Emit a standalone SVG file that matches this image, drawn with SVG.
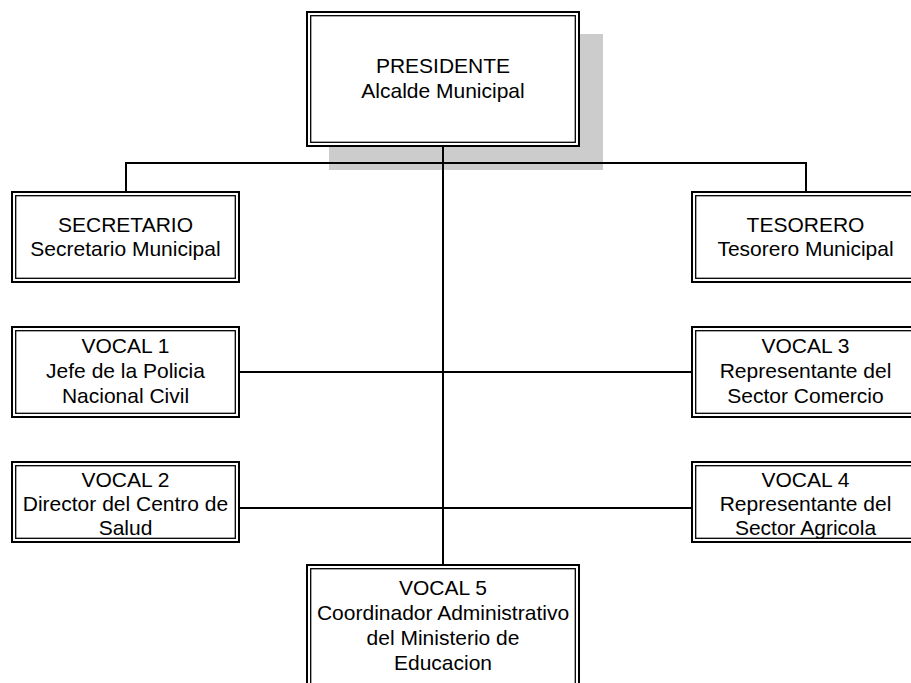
<svg xmlns="http://www.w3.org/2000/svg" width="911" height="683" viewBox="0 0 911 683">
<style>
.o{fill:#fff;stroke:#000;stroke-width:2}
.i{fill:none;stroke:#000;stroke-width:1.3}
.c{fill:none;stroke:#000;stroke-width:2}
text{font-family:"Liberation Sans",Arial,sans-serif;font-size:21px;fill:#000;text-anchor:middle}
</style>
<rect width="911" height="683" fill="#fff"/>
<rect x="329" y="34" width="274" height="136" fill="#cccccc"/>
<g id="connectors">
<path class="c" d="M126 192V163H806V192"/>
<path class="c" d="M443 146V565"/>
<path class="c" d="M239 372H692"/>
<path class="c" d="M239 508H692"/>
</g>
<g id="presidente">
<rect class="o" x="307" y="12" width="272" height="134"/>
<rect class="i" x="310.7" y="15.7" width="264.6" height="126.6"/>
<text x="443" y="73">PRESIDENTE</text>
<text x="443" y="98">Alcalde Municipal</text>
</g>
<g id="secretario">
<rect class="o" x="12" y="192" width="227" height="90"/>
<rect class="i" x="15.7" y="195.7" width="219.6" height="82.6"/>
<text x="125.5" y="232">SECRETARIO</text>
<text x="125.5" y="256">Secretario Municipal</text>
</g>
<g id="tesorero">
<rect class="o" x="692" y="192" width="227" height="90"/>
<rect class="i" x="695.7" y="195.7" width="219.6" height="82.6"/>
<text x="805.5" y="232">TESORERO</text>
<text x="805.5" y="256">Tesorero Municipal</text>
</g>
<g id="vocal1">
<rect class="o" x="12" y="327" width="227" height="90"/>
<rect class="i" x="15.7" y="330.7" width="219.6" height="82.6"/>
<text x="125.5" y="353">VOCAL 1</text>
<text x="125.5" y="378">Jefe de la Policia</text>
<text x="125.5" y="403">Nacional Civil</text>
</g>
<g id="vocal3">
<rect class="o" x="692" y="327" width="227" height="90"/>
<rect class="i" x="695.7" y="330.7" width="219.6" height="82.6"/>
<text x="805.5" y="353">VOCAL 3</text>
<text x="805.5" y="378">Representante del</text>
<text x="805.5" y="403">Sector Comercio</text>
</g>
<g id="vocal2">
<rect class="o" x="12" y="462" width="227" height="80"/>
<rect class="i" x="15.7" y="465.7" width="219.6" height="72.6"/>
<text x="125.5" y="487">VOCAL 2</text>
<text x="125.5" y="511">Director del Centro de</text>
<text x="125.5" y="535">Salud</text>
</g>
<g id="vocal4">
<rect class="o" x="692" y="462" width="227" height="80"/>
<rect class="i" x="695.7" y="465.7" width="219.6" height="72.6"/>
<text x="805.5" y="487">VOCAL 4</text>
<text x="805.5" y="511">Representante del</text>
<text x="805.5" y="535">Sector Agricola</text>
</g>
<g id="vocal5">
<rect class="o" x="307" y="565" width="272" height="124"/>
<rect class="i" x="310.7" y="568.7" width="264.6" height="116.6"/>
<text x="443" y="595">VOCAL 5</text>
<text x="443" y="620">Coordinador Administrativo</text>
<text x="443" y="645">del Ministerio de</text>
<text x="443" y="670">Educacion</text>
</g>
</svg>
